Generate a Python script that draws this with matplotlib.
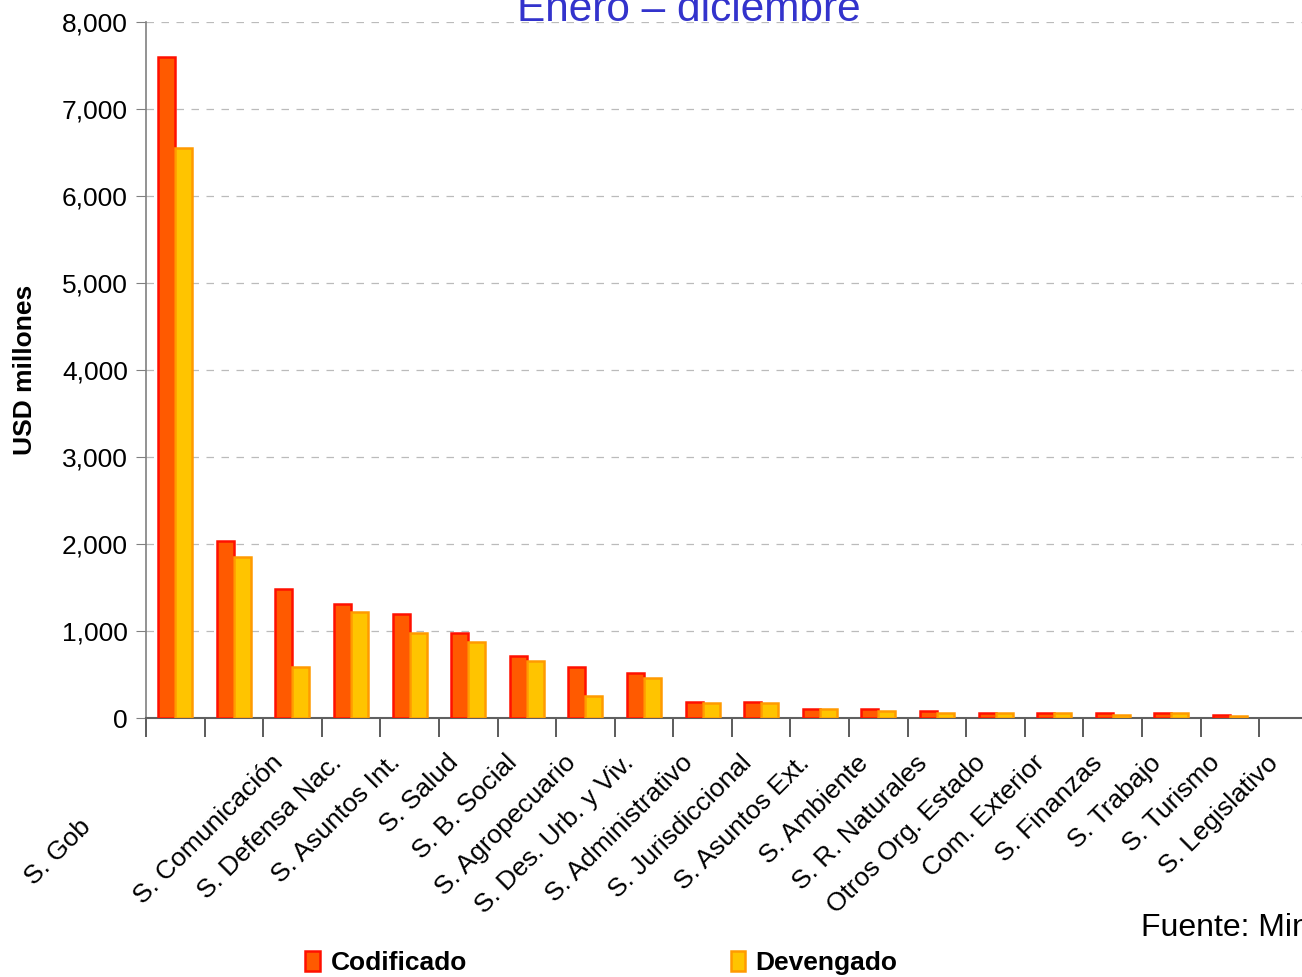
import numpy as np
import matplotlib.pyplot as plt
from matplotlib.patches import Patch
from matplotlib.transforms import ScaledTranslation
from matplotlib.ticker import FuncFormatter, MultipleLocator

plt.rcParams["font.family"] = ["Liberation Sans", "DejaVu Sans"]

sectores = [
    "S. Gob", "S. Comunicación", "S. Defensa Nac.", "S. Asuntos Int.",
    "S. Salud", "S. B. Social", "S. Agropecuario", "S. Des. Urb. y Viv.",
    "S. Administrativo", "S. Jurisdiccional", "S. Asuntos Ext.",
    "S. Ambiente", "S. R. Naturales", "Otros Org. Estado", "Com. Exterior",
    "S. Finanzas", "S. Trabajo", "S. Turismo", "S. Legislativo",
]
codificado = [7600, 2040, 1480, 1310, 1195, 980, 710, 590, 515,
              190, 190, 100, 100, 80, 60, 60, 55, 55, 30]
devengado = [6550, 1850, 590, 1220, 980, 880, 660, 250, 465,
             170, 170, 100, 80, 55, 60, 55, 30, 55, 25]

fig = plt.figure(figsize=(13.02, 9.77), dpi=100)
ax = fig.add_axes([0.1121, 0.265, 0.8879, 0.7125])

x = np.arange(len(sectores))
w = 0.29
ax.bar(x - w / 2, codificado, w, color="#FF5A00", edgecolor="#FF1000",
       linewidth=1.8, label="Codificado", zorder=3)
ax.bar(x + w / 2, devengado, w, color="#FFC400", edgecolor="#FF9A00",
       linewidth=1.8, label="Devengado", zorder=3)

ax.set_xlim(-0.5, 19.23)
ax.set_ylim(0, 8000)
ax.yaxis.set_major_locator(MultipleLocator(1000))
ax.yaxis.set_major_formatter(FuncFormatter(lambda v, p: f"{v:,.0f}"))
ax.grid(axis="y", linestyle=(0, (6, 6)), color="#BBBBBB", linewidth=0.9, zorder=0)

for s in ["top", "right"]:
    ax.spines[s].set_visible(False)
ax.spines["left"].set_color("#808080")
ax.spines["left"].set_linewidth(1.2)
ax.spines["bottom"].set_color("#606060")
ax.spines["bottom"].set_linewidth(1.5)

ax.tick_params(axis="y", labelsize=19, length=7, color="#808080", pad=6)

# category separators as major ticks, names on minor ticks
ax.set_xticks(np.arange(-0.5, 19.5, 1.0))
ax.set_xticklabels([])
ax.tick_params(axis="x", which="major", length=14, width=1.2, color="#404040")
ax.set_xticks(x, minor=True)
ax.set_xticklabels(sectores, minor=True, rotation=45, ha="right",
                   va="center", rotation_mode="anchor", fontsize=19)
ax.tick_params(axis="x", which="minor", length=0, pad=0)

for i, lab in enumerate(ax.get_xticklabels(minor=True)):
    dx, dy = 0.45, -0.41
    if i == 0:
        dx, dy = -0.88, -1.05
    lab.set_transform(lab.get_transform() + ScaledTranslation(dx, dy, fig.dpi_scale_trans))

ax.set_ylabel("USD millones", fontsize=19, fontweight="bold", labelpad=18)

fig.text(0.529, 0.979, "Enero \u2013 diciembre", color="#3333CC",
         fontsize=30.5, ha="center", va="baseline")
fig.text(0.876, 0.05, "Fuente: Ministerio", fontsize=23, ha="left", va="center")

handles = [
    Patch(facecolor="#FF5A00", edgecolor="#FF1000", linewidth=1.8, label="Codificado"),
    Patch(facecolor="#FFC400", edgecolor="#FF9A00", linewidth=1.8, label="Devengado"),
]
leg = fig.legend(handles=handles, loc="center", bbox_to_anchor=(0.462, 0.014),
                 ncol=2, frameon=False, handlelength=0.55, handleheight=0.8,
                 handletextpad=0.4, columnspacing=10.0,
                 prop={"size": 19, "weight": "bold"})

fig.savefig("out.png", dpi=100)
